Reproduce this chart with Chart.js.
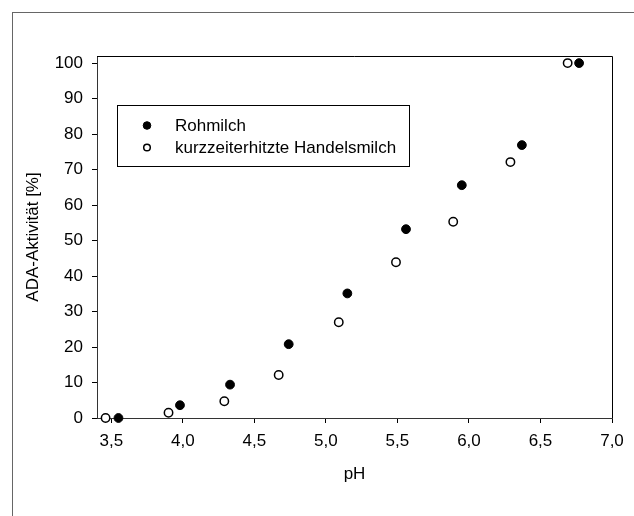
<!DOCTYPE html>
<html>
<head>
<meta charset="utf-8">
<script src="https://cdn.jsdelivr.net/npm/chart.js@4/dist/chart.umd.min.js"></script>
<style>
  html, body { margin: 0; padding: 0; background: #fff; }
  canvas { display: block; }
</style>
</head>
<body>
<canvas id="chart" width="634" height="516"></canvas>
<script>
// Rohmilch (filled circles)
const rohX = [3.55, 3.98, 4.33, 4.74, 5.15, 5.56, 5.95, 6.37, 6.77];
const rohY = [0, 3.6, 9.4, 20.8, 35.1, 53.2, 65.6, 76.9, 100];
// kurzzeiterhitzte Handelsmilch (open circles)
const kzhX = [3.46, 3.90, 4.29, 4.67, 5.09, 5.49, 5.89, 6.29, 6.69];
const kzhY = [0, 1.5, 4.7, 12.1, 27.0, 43.9, 55.3, 72.1, 100];

const xTicks = [3.5, 4.0, 4.5, 5.0, 5.5, 6.0, 6.5, 7.0];
const yTicks = [0, 10, 20, 30, 40, 50, 60, 70, 80, 90, 100];

const FONT = "Arial, 'Liberation Sans', sans-serif";
const SIZE = 17;

const toPoints = (xs, ys) => xs.map((x, i) => ({ x: x, y: ys[i] }));

// outer frame, top/right plot border and the boxed legend
const framePlugin = {
  id: "frame",
  beforeDraw(chart) {
    const ctx = chart.ctx;
    ctx.save();
    ctx.fillStyle = "#fff";
    ctx.fillRect(0, 0, chart.width, chart.height);
    ctx.strokeStyle = "#666";
    ctx.lineWidth = 1;
    ctx.strokeRect(12.5, 12.5, chart.width + 10, chart.height + 10);
    ctx.restore();
  },
  afterDraw(chart) {
    const ctx = chart.ctx;
    const a = chart.chartArea;
    ctx.save();
    ctx.strokeStyle = "#000";
    ctx.lineWidth = 1;
    ctx.beginPath();
    ctx.moveTo(a.left, a.top + 0.5);
    ctx.lineTo(a.right + 0.5, a.top + 0.5);
    ctx.lineTo(a.right + 0.5, a.bottom);
    ctx.stroke();

    // legend
    ctx.strokeRect(117.5, 105.5, 292, 61);
    ctx.font = SIZE + "px " + FONT;
    ctx.textBaseline = "middle";
    chart.data.datasets.forEach((ds, i) => {
      const y = 125.5 + i * 22;
      ctx.beginPath();
      ctx.arc(147, y, ds.legendRadius, 0, Math.PI * 2);
      ctx.fillStyle = ds.backgroundColor;
      ctx.fill();
      ctx.lineWidth = ds.borderWidth;
      ctx.strokeStyle = ds.borderColor;
      ctx.stroke();
      ctx.fillStyle = "#000";
      ctx.fillText(ds.label, 175, y + 1);
    });
    ctx.restore();
  }
};

const fmt = (v) => v.toFixed(1).replace(".", ",");

new Chart(document.getElementById("chart"), {
  type: "scatter",
  data: {
    datasets: [
      {
        label: "Rohmilch",
        data: toPoints(rohX, rohY),
        backgroundColor: "#000",
        borderColor: "#000",
        borderWidth: 1,
        pointRadius: 4.4,
        legendRadius: 3.8,
        clip: false
      },
      {
        label: "kurzzeiterhitzte Handelsmilch",
        data: toPoints(kzhX, kzhY),
        backgroundColor: "#fff",
        borderColor: "#000",
        borderWidth: 1.5,
        pointRadius: 4.2,
        legendRadius: 3.3,
        clip: false
      }
    ]
  },
  options: {
    responsive: false,
    animation: false,
    layout: { padding: { top: 56, right: 22, left: 0, bottom: 0 } },
    plugins: {
      legend: { display: false },
      tooltip: { enabled: false }
    },
    scales: {
      x: {
        type: "linear",
        min: 3.4,
        max: 7.0,
        afterBuildTicks: (scale) => { scale.ticks = xTicks.map((v) => ({ value: v })); },
        afterFit: (scale) => { scale.height = 98; },
        ticks: {
          color: "#000",
          font: { family: FONT, size: SIZE },
          padding: 8,
          maxRotation: 0,
          callback: (v) => fmt(v)
        },
        grid: { drawOnChartArea: false, drawTicks: true, tickLength: 5, tickColor: "#000" },
        border: { display: true, color: "#333", width: 1 },
        title: {
          display: true,
          text: "pH",
          color: "#000",
          font: { family: FONT, size: SIZE },
          padding: { top: 0, bottom: 31 }
        }
      },
      y: {
        type: "linear",
        min: 0,
        max: 102,
        afterBuildTicks: (scale) => { scale.ticks = yTicks.map((v) => ({ value: v })); },
        afterFit: (scale) => { scale.width = 97; },
        ticks: {
          color: "#000",
          font: { family: FONT, size: SIZE },
          padding: 9,
          callback: (v) => String(v)
        },
        grid: { drawOnChartArea: false, drawTicks: true, tickLength: 5, tickColor: "#000" },
        border: { display: true, color: "#333", width: 1 },
        title: {
          display: true,
          text: "ADA-Aktivität [%]",
          color: "#000",
          font: { family: FONT, size: SIZE },
          padding: { top: 23, bottom: 0 }
        }
      }
    }
  },
  plugins: [framePlugin]
});
</script>
</body>
</html>
